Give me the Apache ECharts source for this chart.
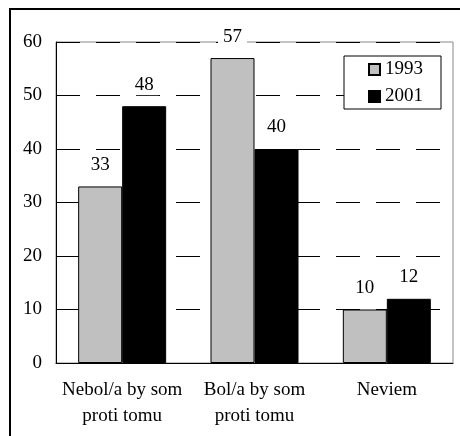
<!DOCTYPE html>
<html><head><meta charset="utf-8">
<script src="https://cdn.jsdelivr.net/npm/echarts@6/dist/echarts.min.js"></script>
<style>html,body{margin:0;padding:0;background:#fff}#c{width:460px;height:436px}</style>
</head><body><div id="c"></div>
<script>
const categories = ['Nebol/a by som\nproti tomu', 'Bol/a by som\nproti tomu', 'Neviem'];
const series1993 = [33, 57, 10];
const series2001 = [48, 40, 12];
const seriesNames = ['1993', '2001'];
const yTicks = { min: 0, max: 60, interval: 10 };

const font = '"Liberation Serif", "DejaVu Serif", serif';
const chart = echarts.init(document.getElementById('c'), null, { renderer: 'canvas' });
const label = {
  show: true, position: 'top', distance: 11, color: '#000',
  fontFamily: font, fontSize: 19, backgroundColor: '#fff', padding: [1, 5]
};
chart.setOption({
  animation: false,
  textStyle: { fontFamily: font },
  graphic: [{
    type: 'rect', shape: { x: 10, y: 9, width: 470, height: 450 },
    style: { fill: 'none', stroke: '#000', lineWidth: 2 }, z: 100
  }],
  grid: { left: 56, top: 42, right: 7, bottom: 73, show: true, borderColor: '#888', borderWidth: 1, backgroundColor: 'transparent' },
  legend: {
    right: 19, top: 56, orient: 'vertical', itemWidth: 11, itemHeight: 11, itemGap: 8,
    borderColor: '#000', borderWidth: 1, backgroundColor: '#fff',
    padding: [4, 18, 3, 24],
    textStyle: { fontFamily: font, fontSize: 19, color: '#000' },
    data: seriesNames.map(n => ({ name: n, icon: 'rect' }))
  },
  xAxis: {
    type: 'category', data: categories,
    axisLine: { lineStyle: { color: '#000', width: 1 } },
    axisTick: { show: false },
    axisLabel: { interval: 0, fontFamily: font, fontSize: 19, color: '#000', margin: 14, lineHeight: 26 }
  },
  yAxis: {
    type: 'value', min: yTicks.min, max: yTicks.max, interval: yTicks.interval,
    axisLine: { show: true, lineStyle: { color: '#000', width: 1 } },
    axisTick: { show: false },
    axisLabel: { fontFamily: font, fontSize: 19, color: '#000', margin: 14 },
    splitLine: { lineStyle: { color: '#000', width: 1, type: [24, 16] } }
  },
  series: [
    { name: seriesNames[0], type: 'bar', data: series1993, barWidth: 44, barGap: '0%',
      itemStyle: { color: '#c0c0c0', borderColor: '#000', borderWidth: 1 }, label },
    { name: seriesNames[1], type: 'bar', data: series2001, barWidth: 44,
      itemStyle: { color: '#000', borderColor: '#000', borderWidth: 1 }, label }
  ]
});
</script></body></html>
